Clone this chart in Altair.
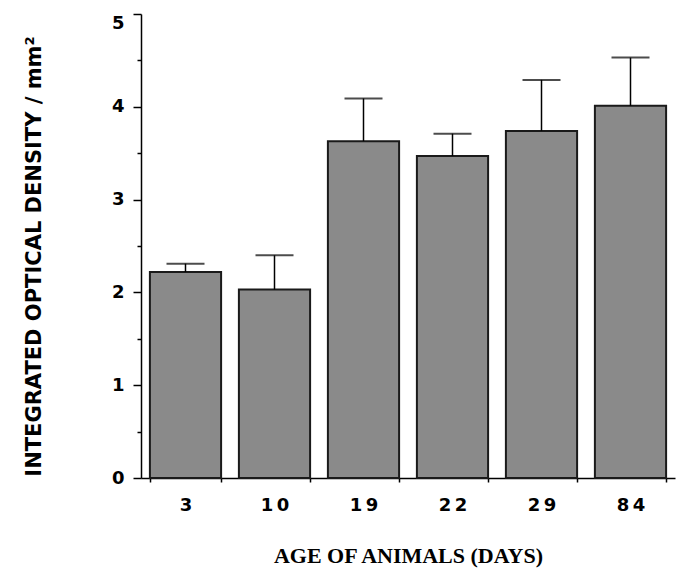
import altair as alt
import pandas as pd

ages = ["3", "10", "19", "22", "29", "84"]
means = [2.22, 2.03, 3.63, 3.47, 3.74, 4.01]
errors = [0.09, 0.37, 0.46, 0.24, 0.55, 0.52]
y_ticks = [0, 0.5, 1, 1.5, 2, 2.5, 3, 3.5, 4, 4.5, 5]

df = pd.DataFrame({"age": ages, "mean": means, "err": errors})

x_enc = alt.X(
    "age:N",
    sort=ages,
    scale=alt.Scale(paddingInner=0.2, paddingOuter=0.1),
    axis=alt.Axis(
        title="AGE OF ANIMALS (DAYS)",
        labelAngle=0,
        tickBand="extent",
        tickSize=4,
        tickWidth=1.5,
        tickColor="black",
        domainColor="black",
        domainWidth=1.5,
        labelFont="DejaVu Sans",
        labelFontWeight="bold",
        labelFontSize=18,
        labelColor="black",
        labelPadding=14,
        labelExpr="join(split(datum.label, ''), '\u2009')",
        titleFont="Liberation Serif",
        titleFontWeight="bold",
        titleFontSize=22,
        titleColor="black",
        titleBaseline="middle",
        titleY=77,
    ),
)

y_axis = alt.Axis(
    title="INTEGRATED OPTICAL DENSITY / mm\u00b2",
    values=y_ticks,
    grid=False,
    tickSize={"condition": {"test": "datum.value % 1 === 0", "value": 8}, "value": 4},
    tickWidth=1.5,
    tickColor="black",
    domainColor="black",
    domainWidth=1.5,
    labelExpr="datum.value % 1 === 0 ? format(datum.value, 'd') : ''",
    labelBaseline={"condition": {"test": "datum.value === 5", "value": "top"}, "value": "middle"},
    labelFont="DejaVu Sans",
    labelFontWeight="bold",
    labelFontSize=18,
    labelColor="black",
    labelPadding=9,
    titleFont="DejaVu Sans",
    titleFontWeight="bold",
    titleFontSize=21,
    titleColor="black",
    titleBaseline="middle",
    titleAngle=-90,
    titleX=-107,
    titleY=242,
)

y_scale = alt.Scale(domain=[0, 5], nice=False, zero=True)

base = alt.Chart(df).transform_calculate(upper="datum.mean + datum.err")

bars = base.mark_bar(fill="#8a8a8a", stroke="#1a1a1a", strokeWidth=2).encode(
    x=x_enc,
    y=alt.Y("mean:Q", scale=y_scale, axis=y_axis),
)

rules = base.mark_rule(color="black", strokeWidth=1.5).encode(
    x=alt.X("age:N", sort=ages),
    y=alt.Y("mean:Q"),
    y2="upper:Q",
)

caps = base.mark_tick(color="black", thickness=2, size=38).encode(
    x=alt.X("age:N", sort=ages),
    y=alt.Y("upper:Q"),
)

chart = (
    alt.layer(bars, rules, caps)
    .properties(
        width=534,
        height=464,
        autosize=alt.AutoSizeParams(type="none"),
        padding={"left": 133, "top": 6, "right": 2, "bottom": 94},
        background="white",
    )
    .configure_view(stroke=None)
)

chart.save("out.html", embed_options={"renderer": "svg", "actions": False})
